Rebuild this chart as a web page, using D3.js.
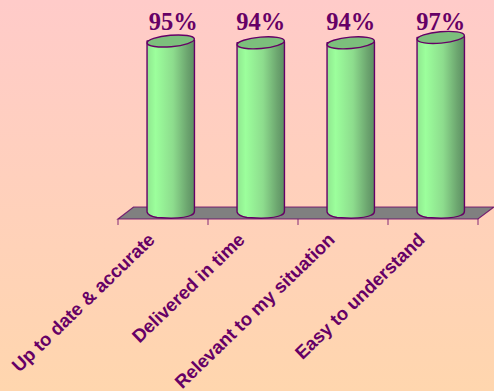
<!DOCTYPE html>
<html>
<head>
<meta charset="utf-8">
<script src="https://cdn.jsdelivr.net/npm/d3@7"></script>
<style>
  html, body { margin: 0; padding: 0; overflow: hidden; }
  svg { display: block; }
</style>
</head>
<body>
<script>
const categories = ["Up to date & accurate", "Delivered in time", "Relevant to my situation", "Easy to understand"];
const values = [95, 94, 94, 97];

const width = 494, height = 391;
const ink = "#660066";
const plot = { left: 118, right: 478, front: 219, back: 207, depthX: 15.5 };
const barRx = 23.7, barRy = 5.7, tilt = -5;

const x = d3.scaleBand().domain(categories).range([plot.left, plot.right]);
const y = d3.scaleLinear().domain([0, 100]).range([212, 32]);

const svg = d3.select("body").append("svg").attr("width", width).attr("height", height);
const defs = svg.append("defs");

const bg = defs.append("linearGradient").attr("id", "page").attr("x1", 0).attr("y1", 0).attr("x2", 0).attr("y2", 1);
bg.append("stop").attr("offset", "0%").attr("stop-color", "#ffcbc9");
bg.append("stop").attr("offset", "100%").attr("stop-color", "#ffd6ae");

const body = defs.append("linearGradient").attr("id", "cyl").attr("x1", 0).attr("y1", 0).attr("x2", 1).attr("y2", 0);
[[0, "#8fe68f"], [0.18, "#9cff9c"], [0.55, "#8ddc8d"], [0.85, "#6ca56f"], [1, "#5c8f62"]].forEach(([o, c]) =>
  body.append("stop").attr("offset", o).attr("stop-color", c));

svg.append("rect").attr("width", width).attr("height", height).attr("fill", "url(#page)");

// Floor of the 3D plot
const floor = d3.path();
floor.moveTo(plot.left, plot.front);
floor.lineTo(plot.left + plot.depthX, plot.back);
floor.lineTo(plot.right + plot.depthX + 0.5, plot.back);
floor.lineTo(plot.right, plot.front);
floor.closePath();
svg.append("path").attr("d", floor.toString()).attr("fill", "#808080").attr("stroke", ink).attr("stroke-width", 1.2).attr("stroke-opacity", 0.8);

// Category tick marks fall on the band boundaries
const tickX = categories.map(c => x(c)).concat(plot.right);
svg.append("g").selectAll("line").data(tickX).join("line")
  .attr("x1", d => d).attr("x2", d => d)
  .attr("y1", plot.front).attr("y2", plot.front + 6)
  .attr("stroke", ink).attr("stroke-width", 1).attr("stroke-opacity", 0.8);

// Cylinders
const cx = c => x(c) + x.bandwidth() / 2 + plot.depthX / 2;
const bars = svg.append("g").selectAll("g").data(categories.map((c, i) => ({ c, v: values[i] }))).join("g")
  .attr("transform", d => `translate(${cx(d.c)},0)`);

bars.append("path")
  .attr("d", d => {
    const top = y(d.v), base = y(0);
    return `M${-barRx},${top} L${-barRx},${base} Q${-barRx + 1},${base + 4} ${-barRx + 10},${base + 5.5}` +
           ` L${-barRx + 24},${base + 6.2} Q${barRx - 8},${base + 6} ${barRx - 3},${base + 3}` +
           ` Q${barRx},${base + 2} ${barRx},${base - 1} L${barRx},${top - 1} Z`;
  })
  .attr("fill", "url(#cyl)").attr("stroke", ink).attr("stroke-width", 1.4).attr("stroke-linejoin", "round");

bars.append("ellipse")
  .attr("rx", barRx).attr("ry", barRy)
  .attr("transform", d => `translate(0,${y(d.v)}) rotate(${tilt})`)
  .attr("fill", "#7cbf7c").attr("stroke", ink).attr("stroke-width", 1.4);

// Value labels above each cylinder
svg.append("g").selectAll("text").data(values).join("text")
  .attr("x", (d, i) => cx(categories[i]) + (i === 0 ? 2.5 : 0))
  .attr("y", 30)
  .attr("text-anchor", "middle")
  .attr("font-family", "'Liberation Serif', serif")
  .attr("font-weight", "bold").attr("font-size", 24.5)
  .attr("fill", ink)
  .text(d => d + "%");

// Slanted category labels, ending under each band
svg.append("g").selectAll("text").data(categories).join("text")
  .attr("transform", c => `translate(${x(c) + x.bandwidth() / 2 - 7},${241}) rotate(-44)`)
  .attr("text-anchor", "end")
  .attr("font-family", "'Liberation Sans', sans-serif")
  .attr("font-weight", "bold").attr("font-size", 18.5)
  .attr("fill", ink)
  .text(c => c);
</script>
</body>
</html>
